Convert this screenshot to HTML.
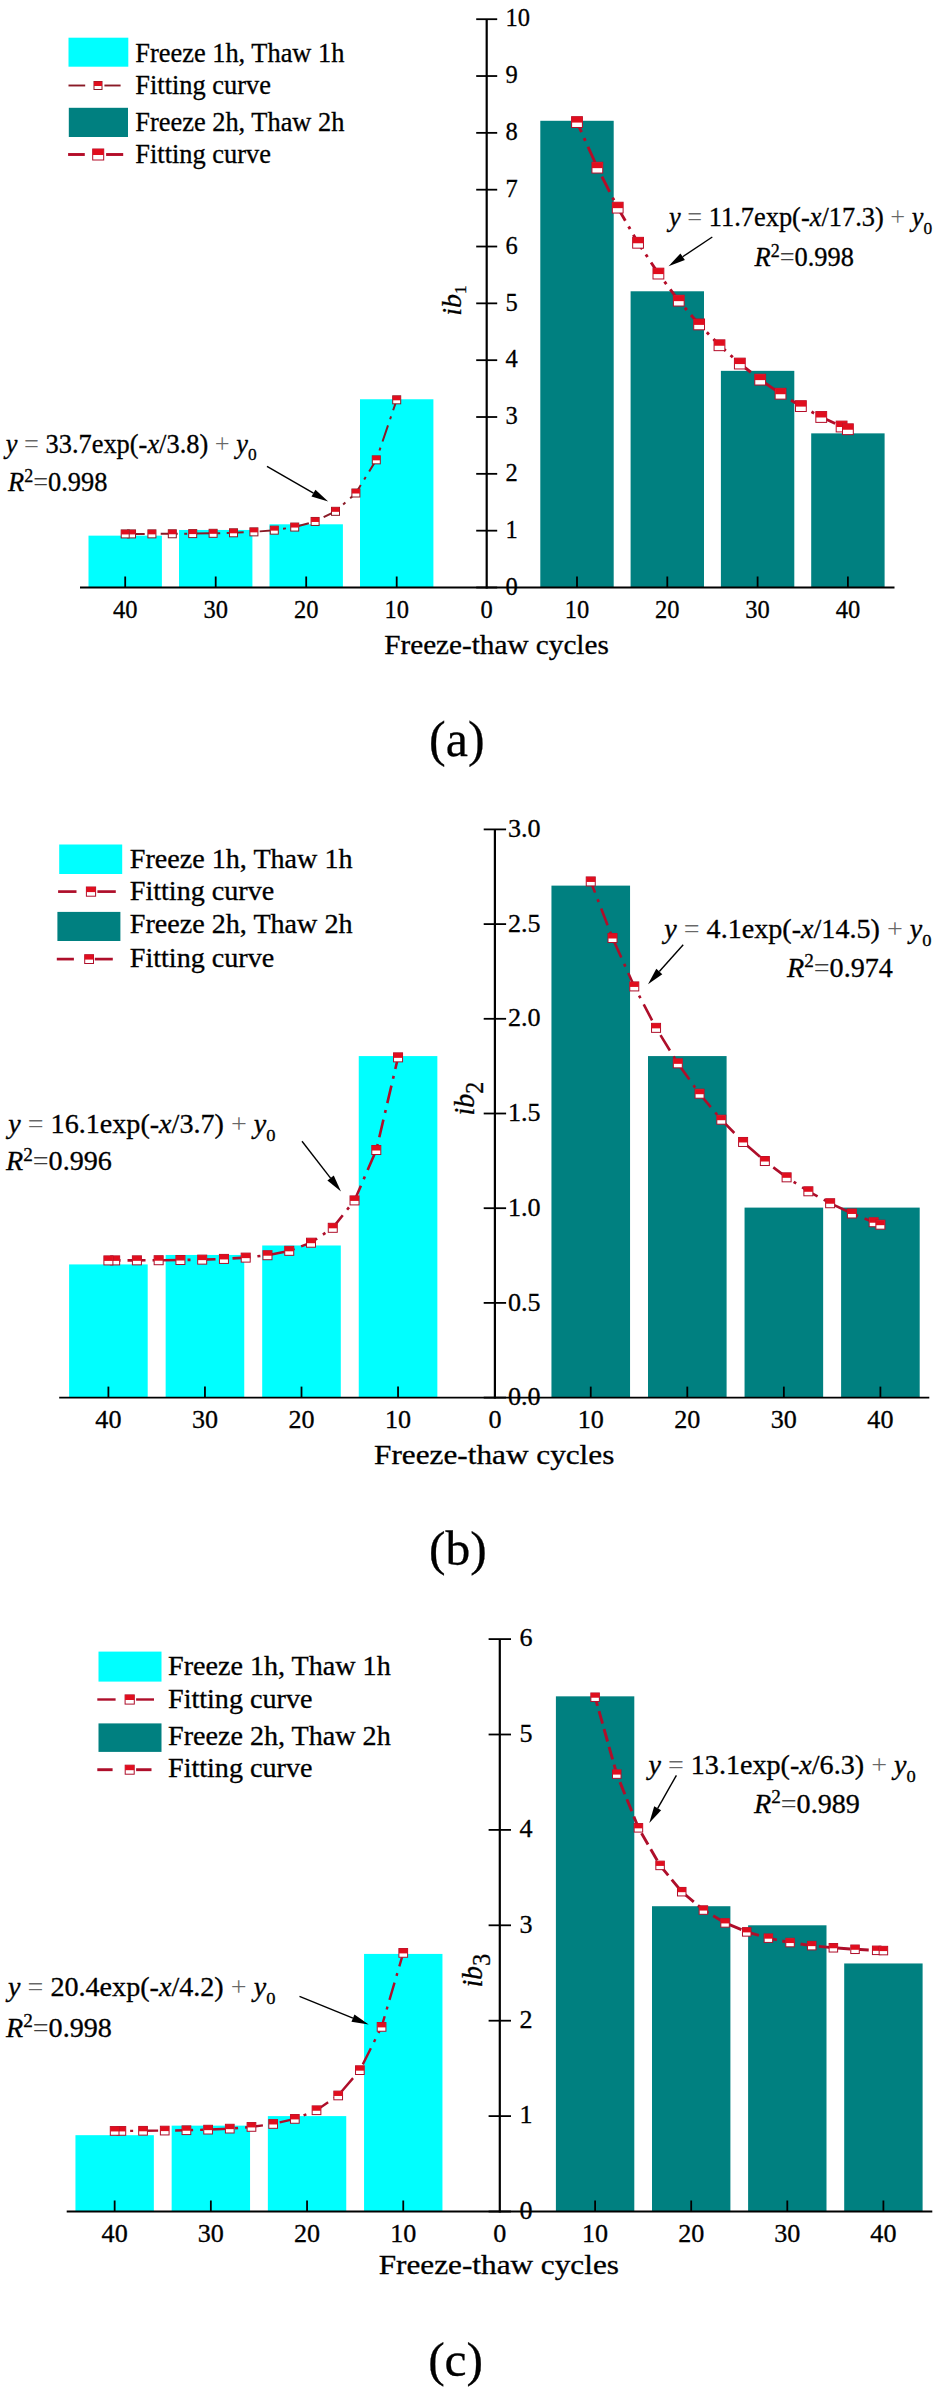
<!DOCTYPE html>
<html><head><meta charset="utf-8"><title>Freeze-thaw cycles</title>
<style>
html,body{margin:0;padding:0;background:#fff;}
svg{display:block;}
text{font-family:"Liberation Serif",serif;fill:#000;stroke:#000;stroke-width:0.3px;}
</style></head><body>
<svg width="937" height="2389" viewBox="0 0 937 2389">
<rect width="937" height="2389" fill="#fff"/>
<rect x="360.00" y="399.26" width="73.40" height="188.24" fill="#00FFFF"/>
<rect x="269.50" y="524.29" width="73.40" height="63.21" fill="#00FFFF"/>
<rect x="179.00" y="529.97" width="73.40" height="57.53" fill="#00FFFF"/>
<rect x="88.50" y="535.65" width="73.40" height="51.85" fill="#00FFFF"/>
<rect x="540.30" y="120.79" width="73.40" height="466.71" fill="#008080"/>
<rect x="630.60" y="291.28" width="73.40" height="296.22" fill="#008080"/>
<rect x="720.90" y="370.85" width="73.40" height="216.65" fill="#008080"/>
<rect x="811.20" y="433.36" width="73.40" height="154.14" fill="#008080"/>
<line x1="80" y1="587.5" x2="894.5" y2="587.5" stroke="#000" stroke-width="1.8"/>
<line x1="486.7" y1="19.20" x2="486.7" y2="588.4" stroke="#000" stroke-width="2.2"/>
<line x1="125.20" y1="587.5" x2="125.20" y2="576.5" stroke="#000" stroke-width="1.8"/>
<line x1="215.70" y1="587.5" x2="215.70" y2="576.5" stroke="#000" stroke-width="1.8"/>
<line x1="306.20" y1="587.5" x2="306.20" y2="576.5" stroke="#000" stroke-width="1.8"/>
<line x1="396.70" y1="587.5" x2="396.70" y2="576.5" stroke="#000" stroke-width="1.8"/>
<line x1="577.00" y1="587.5" x2="577.00" y2="576.5" stroke="#000" stroke-width="1.8"/>
<line x1="667.30" y1="587.5" x2="667.30" y2="576.5" stroke="#000" stroke-width="1.8"/>
<line x1="757.60" y1="587.5" x2="757.60" y2="576.5" stroke="#000" stroke-width="1.8"/>
<line x1="847.90" y1="587.5" x2="847.90" y2="576.5" stroke="#000" stroke-width="1.8"/>
<line x1="476.2" y1="587.50" x2="497.2" y2="587.50" stroke="#000" stroke-width="1.8"/>
<text transform="translate(505.50,594.78) scale(1.0,1)" font-size="24.5" text-anchor="start" >0</text>
<line x1="476.2" y1="530.67" x2="497.2" y2="530.67" stroke="#000" stroke-width="1.8"/>
<text transform="translate(505.50,537.95) scale(1.0,1)" font-size="24.5" text-anchor="start" >1</text>
<line x1="476.2" y1="473.84" x2="497.2" y2="473.84" stroke="#000" stroke-width="1.8"/>
<text transform="translate(505.50,481.12) scale(1.0,1)" font-size="24.5" text-anchor="start" >2</text>
<line x1="476.2" y1="417.01" x2="497.2" y2="417.01" stroke="#000" stroke-width="1.8"/>
<text transform="translate(505.50,424.29) scale(1.0,1)" font-size="24.5" text-anchor="start" >3</text>
<line x1="476.2" y1="360.18" x2="497.2" y2="360.18" stroke="#000" stroke-width="1.8"/>
<text transform="translate(505.50,367.46) scale(1.0,1)" font-size="24.5" text-anchor="start" >4</text>
<line x1="476.2" y1="303.35" x2="497.2" y2="303.35" stroke="#000" stroke-width="1.8"/>
<text transform="translate(505.50,310.63) scale(1.0,1)" font-size="24.5" text-anchor="start" >5</text>
<line x1="476.2" y1="246.52" x2="497.2" y2="246.52" stroke="#000" stroke-width="1.8"/>
<text transform="translate(505.50,253.80) scale(1.0,1)" font-size="24.5" text-anchor="start" >6</text>
<line x1="476.2" y1="189.69" x2="497.2" y2="189.69" stroke="#000" stroke-width="1.8"/>
<text transform="translate(505.50,196.97) scale(1.0,1)" font-size="24.5" text-anchor="start" >7</text>
<line x1="476.2" y1="132.86" x2="497.2" y2="132.86" stroke="#000" stroke-width="1.8"/>
<text transform="translate(505.50,140.14) scale(1.0,1)" font-size="24.5" text-anchor="start" >8</text>
<line x1="476.2" y1="76.03" x2="497.2" y2="76.03" stroke="#000" stroke-width="1.8"/>
<text transform="translate(505.50,83.31) scale(1.0,1)" font-size="24.5" text-anchor="start" >9</text>
<line x1="476.2" y1="19.20" x2="497.2" y2="19.20" stroke="#000" stroke-width="1.8"/>
<text transform="translate(505.50,26.48) scale(1.0,1)" font-size="24.5" text-anchor="start" >10</text>
<text transform="translate(125.20,617.80) scale(1.0,1)" font-size="24.5" text-anchor="middle" >40</text>
<text transform="translate(215.70,617.80) scale(1.0,1)" font-size="24.5" text-anchor="middle" >30</text>
<text transform="translate(306.20,617.80) scale(1.0,1)" font-size="24.5" text-anchor="middle" >20</text>
<text transform="translate(396.70,617.80) scale(1.0,1)" font-size="24.5" text-anchor="middle" >10</text>
<text transform="translate(486.70,617.80) scale(1.0,1)" font-size="24.5" text-anchor="middle" >0</text>
<text transform="translate(577.00,617.80) scale(1.0,1)" font-size="24.5" text-anchor="middle" >10</text>
<text transform="translate(667.30,617.80) scale(1.0,1)" font-size="24.5" text-anchor="middle" >20</text>
<text transform="translate(757.60,617.80) scale(1.0,1)" font-size="24.5" text-anchor="middle" >30</text>
<text transform="translate(847.90,617.80) scale(1.0,1)" font-size="24.5" text-anchor="middle" >40</text>
<polyline points="396.70,399.82 376.30,459.84 355.90,493.01 335.50,511.33 315.11,521.46 294.71,527.06 274.31,530.15 253.91,531.86 233.51,532.80 213.11,533.32 192.71,533.61 172.31,533.77 151.92,533.86 131.52,533.91 125.20,533.92" fill="none" stroke="#8A1A26" stroke-width="2.0" stroke-dasharray="17 6.5 3 6.5" stroke-dashoffset="6"/>
<rect x="392.70" y="395.82" width="8.0" height="8.0" fill="#fff" stroke="#8A1A26" stroke-width="1.0"/>
<rect x="392.70" y="395.82" width="8.0" height="4.50" fill="#E00E1E"/>
<rect x="372.30" y="455.84" width="8.0" height="8.0" fill="#fff" stroke="#8A1A26" stroke-width="1.0"/>
<rect x="372.30" y="455.84" width="8.0" height="4.50" fill="#E00E1E"/>
<rect x="351.90" y="489.01" width="8.0" height="8.0" fill="#fff" stroke="#8A1A26" stroke-width="1.0"/>
<rect x="351.90" y="489.01" width="8.0" height="4.50" fill="#E00E1E"/>
<rect x="331.50" y="507.33" width="8.0" height="8.0" fill="#fff" stroke="#8A1A26" stroke-width="1.0"/>
<rect x="331.50" y="507.33" width="8.0" height="4.50" fill="#E00E1E"/>
<rect x="311.11" y="517.46" width="8.0" height="8.0" fill="#fff" stroke="#8A1A26" stroke-width="1.0"/>
<rect x="311.11" y="517.46" width="8.0" height="4.50" fill="#E00E1E"/>
<rect x="290.71" y="523.06" width="8.0" height="8.0" fill="#fff" stroke="#8A1A26" stroke-width="1.0"/>
<rect x="290.71" y="523.06" width="8.0" height="4.50" fill="#E00E1E"/>
<rect x="270.31" y="526.15" width="8.0" height="8.0" fill="#fff" stroke="#8A1A26" stroke-width="1.0"/>
<rect x="270.31" y="526.15" width="8.0" height="4.50" fill="#E00E1E"/>
<rect x="249.91" y="527.86" width="8.0" height="8.0" fill="#fff" stroke="#8A1A26" stroke-width="1.0"/>
<rect x="249.91" y="527.86" width="8.0" height="4.50" fill="#E00E1E"/>
<rect x="229.51" y="528.80" width="8.0" height="8.0" fill="#fff" stroke="#8A1A26" stroke-width="1.0"/>
<rect x="229.51" y="528.80" width="8.0" height="4.50" fill="#E00E1E"/>
<rect x="209.11" y="529.32" width="8.0" height="8.0" fill="#fff" stroke="#8A1A26" stroke-width="1.0"/>
<rect x="209.11" y="529.32" width="8.0" height="4.50" fill="#E00E1E"/>
<rect x="188.71" y="529.61" width="8.0" height="8.0" fill="#fff" stroke="#8A1A26" stroke-width="1.0"/>
<rect x="188.71" y="529.61" width="8.0" height="4.50" fill="#E00E1E"/>
<rect x="168.31" y="529.77" width="8.0" height="8.0" fill="#fff" stroke="#8A1A26" stroke-width="1.0"/>
<rect x="168.31" y="529.77" width="8.0" height="4.50" fill="#E00E1E"/>
<rect x="147.92" y="529.86" width="8.0" height="8.0" fill="#fff" stroke="#8A1A26" stroke-width="1.0"/>
<rect x="147.92" y="529.86" width="8.0" height="4.50" fill="#E00E1E"/>
<rect x="127.52" y="529.91" width="8.0" height="8.0" fill="#fff" stroke="#8A1A26" stroke-width="1.0"/>
<rect x="127.52" y="529.91" width="8.0" height="4.50" fill="#E00E1E"/>
<rect x="121.20" y="529.92" width="8.0" height="8.0" fill="#fff" stroke="#8A1A26" stroke-width="1.0"/>
<rect x="121.20" y="529.92" width="8.0" height="4.50" fill="#E00E1E"/>
<polyline points="577.00,122.08 597.35,167.65 617.71,207.65 638.06,242.76 658.41,273.59 678.77,300.64 699.12,324.40 719.48,345.25 739.83,363.56 760.18,379.62 780.54,393.73 800.89,406.11 821.24,416.98 841.60,426.52 847.90,429.24" fill="none" stroke="#B40C28" stroke-width="2.9" stroke-dasharray="17 6.5 3 6.5" stroke-dashoffset="6"/>
<rect x="571.60" y="116.68" width="10.8" height="10.8" fill="#fff" stroke="#B40C28" stroke-width="1.0"/>
<rect x="571.60" y="116.68" width="10.8" height="5.90" fill="#E00E1E"/>
<rect x="591.95" y="162.25" width="10.8" height="10.8" fill="#fff" stroke="#B40C28" stroke-width="1.0"/>
<rect x="591.95" y="162.25" width="10.8" height="5.90" fill="#E00E1E"/>
<rect x="612.31" y="202.25" width="10.8" height="10.8" fill="#fff" stroke="#B40C28" stroke-width="1.0"/>
<rect x="612.31" y="202.25" width="10.8" height="5.90" fill="#E00E1E"/>
<rect x="632.66" y="237.36" width="10.8" height="10.8" fill="#fff" stroke="#B40C28" stroke-width="1.0"/>
<rect x="632.66" y="237.36" width="10.8" height="5.90" fill="#E00E1E"/>
<rect x="653.01" y="268.19" width="10.8" height="10.8" fill="#fff" stroke="#B40C28" stroke-width="1.0"/>
<rect x="653.01" y="268.19" width="10.8" height="5.90" fill="#E00E1E"/>
<rect x="673.37" y="295.24" width="10.8" height="10.8" fill="#fff" stroke="#B40C28" stroke-width="1.0"/>
<rect x="673.37" y="295.24" width="10.8" height="5.90" fill="#E00E1E"/>
<rect x="693.72" y="319.00" width="10.8" height="10.8" fill="#fff" stroke="#B40C28" stroke-width="1.0"/>
<rect x="693.72" y="319.00" width="10.8" height="5.90" fill="#E00E1E"/>
<rect x="714.08" y="339.85" width="10.8" height="10.8" fill="#fff" stroke="#B40C28" stroke-width="1.0"/>
<rect x="714.08" y="339.85" width="10.8" height="5.90" fill="#E00E1E"/>
<rect x="734.43" y="358.16" width="10.8" height="10.8" fill="#fff" stroke="#B40C28" stroke-width="1.0"/>
<rect x="734.43" y="358.16" width="10.8" height="5.90" fill="#E00E1E"/>
<rect x="754.78" y="374.22" width="10.8" height="10.8" fill="#fff" stroke="#B40C28" stroke-width="1.0"/>
<rect x="754.78" y="374.22" width="10.8" height="5.90" fill="#E00E1E"/>
<rect x="775.14" y="388.33" width="10.8" height="10.8" fill="#fff" stroke="#B40C28" stroke-width="1.0"/>
<rect x="775.14" y="388.33" width="10.8" height="5.90" fill="#E00E1E"/>
<rect x="795.49" y="400.71" width="10.8" height="10.8" fill="#fff" stroke="#B40C28" stroke-width="1.0"/>
<rect x="795.49" y="400.71" width="10.8" height="5.90" fill="#E00E1E"/>
<rect x="815.84" y="411.58" width="10.8" height="10.8" fill="#fff" stroke="#B40C28" stroke-width="1.0"/>
<rect x="815.84" y="411.58" width="10.8" height="5.90" fill="#E00E1E"/>
<rect x="836.20" y="421.12" width="10.8" height="10.8" fill="#fff" stroke="#B40C28" stroke-width="1.0"/>
<rect x="836.20" y="421.12" width="10.8" height="5.90" fill="#E00E1E"/>
<rect x="842.50" y="423.84" width="10.8" height="10.8" fill="#fff" stroke="#B40C28" stroke-width="1.0"/>
<rect x="842.50" y="423.84" width="10.8" height="5.90" fill="#E00E1E"/>
<rect x="68.5" y="37.7" width="59.8" height="29" fill="#00FFFF"/>
<rect x="68.8" y="107.8" width="59.2" height="29.2" fill="#008080"/>
<text transform="translate(135.30,61.70) scale(1.0,1)" font-size="26.4" text-anchor="start" >Freeze 1h, Thaw 1h</text>
<text transform="translate(135.30,94.10) scale(1.0,1)" font-size="26.4" text-anchor="start" >Fitting curve</text>
<text transform="translate(135.30,131.00) scale(1.0,1)" font-size="26.4" text-anchor="start" >Freeze 2h, Thaw 2h</text>
<text transform="translate(135.30,162.80) scale(1.0,1)" font-size="26.4" text-anchor="start" >Fitting curve</text>
<line x1="68.5" y1="85.5" x2="85.2" y2="85.5" stroke="#8A1A26" stroke-width="1.9"/>
<line x1="104.4" y1="85.5" x2="120.6" y2="85.5" stroke="#8A1A26" stroke-width="1.9"/>
<rect x="94.00" y="81.50" width="8.0" height="8.0" fill="#fff" stroke="#8A1A26" stroke-width="1.0"/>
<rect x="94.00" y="81.50" width="8.0" height="4.50" fill="#E00E1E"/>
<line x1="68.1" y1="154.5" x2="84.8" y2="154.5" stroke="#B40C28" stroke-width="2.9"/>
<line x1="106.1" y1="154.5" x2="123.2" y2="154.5" stroke="#B40C28" stroke-width="2.9"/>
<rect x="92.70" y="149.00" width="11.0" height="11.0" fill="#fff" stroke="#B40C28" stroke-width="1.0"/>
<rect x="92.70" y="149.00" width="11.0" height="6.00" fill="#E00E1E"/>
<text transform="translate(5.70,452.80) scale(1.0,1)" font-size="26.4" text-anchor="start" ><tspan font-style="italic">y</tspan> <tspan fill-opacity="0.6" stroke="none">=</tspan> 33.7exp(-<tspan font-style="italic">x</tspan>/3.8) <tspan fill-opacity="0.6" stroke="none">+</tspan> <tspan font-style="italic">y</tspan><tspan font-size="17.4" dy="7.4">0</tspan></text>
<text transform="translate(8.00,491.30) scale(1.0,1)" font-size="26.4" text-anchor="start" ><tspan font-style="italic">R</tspan><tspan font-size="18.0" dy="-9.5">2</tspan><tspan dy="9.5"><tspan fill-opacity="0.75" stroke="none">=</tspan>0.998</tspan></text>
<text transform="translate(669.00,226.30) scale(1.0,1)" font-size="26.4" text-anchor="start" ><tspan font-style="italic">y</tspan> <tspan fill-opacity="0.6" stroke="none">=</tspan> 11.7exp(-<tspan font-style="italic">x</tspan>/17.3) <tspan fill-opacity="0.6" stroke="none">+</tspan> <tspan font-style="italic">y</tspan><tspan font-size="17.4" dy="7.4">0</tspan></text>
<text transform="translate(754.50,266.20) scale(1.0,1)" font-size="26.4" text-anchor="start" ><tspan font-style="italic">R</tspan><tspan font-size="18.0" dy="-9.5">2</tspan><tspan dy="9.5"><tspan fill-opacity="0.75" stroke="none">=</tspan>0.998</tspan></text>
<line x1="267.00" y1="466.40" x2="313.46" y2="493.12" stroke="#000" stroke-width="1.4"/>
<polygon points="328.20,501.60 311.47,496.59 315.46,489.66" fill="#000"/>
<line x1="712.30" y1="237.00" x2="682.64" y2="256.77" stroke="#000" stroke-width="1.4"/>
<polygon points="668.50,266.20 680.43,253.44 684.86,260.10" fill="#000"/>
<text transform="translate(496.50,653.70) scale(1.07,1)" font-size="27.3" text-anchor="middle" >Freeze-thaw cycles</text>
<text transform="translate(456.80,756.00) scale(1.0,1)" font-size="50" text-anchor="middle" >(a)</text>
<text transform="translate(460.5,315.7) rotate(-90) scale(1,1.0)" font-size="28"><tspan font-style="italic">ib</tspan><tspan font-size="17" dy="5.5">1</tspan></text>
<rect x="358.75" y="1056.08" width="78.60" height="341.52" fill="#00FFFF"/>
<rect x="262.20" y="1245.48" width="78.60" height="152.12" fill="#00FFFF"/>
<rect x="165.65" y="1254.95" width="78.60" height="142.65" fill="#00FFFF"/>
<rect x="69.10" y="1264.42" width="78.60" height="133.18" fill="#00FFFF"/>
<rect x="551.45" y="885.62" width="78.60" height="511.98" fill="#008080"/>
<rect x="648.00" y="1056.08" width="78.60" height="341.52" fill="#008080"/>
<rect x="744.55" y="1207.60" width="78.60" height="190.00" fill="#008080"/>
<rect x="841.10" y="1207.60" width="78.60" height="190.00" fill="#008080"/>
<line x1="59.2" y1="1397.6" x2="929.3" y2="1397.6" stroke="#000" stroke-width="1.8"/>
<line x1="494.9" y1="829.40" x2="494.9" y2="1398.5" stroke="#000" stroke-width="2.2"/>
<line x1="108.40" y1="1397.6" x2="108.40" y2="1386.6" stroke="#000" stroke-width="1.8"/>
<line x1="204.95" y1="1397.6" x2="204.95" y2="1386.6" stroke="#000" stroke-width="1.8"/>
<line x1="301.50" y1="1397.6" x2="301.50" y2="1386.6" stroke="#000" stroke-width="1.8"/>
<line x1="398.05" y1="1397.6" x2="398.05" y2="1386.6" stroke="#000" stroke-width="1.8"/>
<line x1="590.75" y1="1397.6" x2="590.75" y2="1386.6" stroke="#000" stroke-width="1.8"/>
<line x1="687.30" y1="1397.6" x2="687.30" y2="1386.6" stroke="#000" stroke-width="1.8"/>
<line x1="783.85" y1="1397.6" x2="783.85" y2="1386.6" stroke="#000" stroke-width="1.8"/>
<line x1="880.40" y1="1397.6" x2="880.40" y2="1386.6" stroke="#000" stroke-width="1.8"/>
<line x1="483.7" y1="1397.60" x2="506.09999999999997" y2="1397.60" stroke="#000" stroke-width="1.8"/>
<text transform="translate(508.00,1405.28) scale(1.065,1)" font-size="24.5" text-anchor="start" >0.0</text>
<line x1="483.7" y1="1302.90" x2="506.09999999999997" y2="1302.90" stroke="#000" stroke-width="1.8"/>
<text transform="translate(508.00,1310.58) scale(1.065,1)" font-size="24.5" text-anchor="start" >0.5</text>
<line x1="483.7" y1="1208.20" x2="506.09999999999997" y2="1208.20" stroke="#000" stroke-width="1.8"/>
<text transform="translate(508.00,1215.88) scale(1.065,1)" font-size="24.5" text-anchor="start" >1.0</text>
<line x1="483.7" y1="1113.50" x2="506.09999999999997" y2="1113.50" stroke="#000" stroke-width="1.8"/>
<text transform="translate(508.00,1121.18) scale(1.065,1)" font-size="24.5" text-anchor="start" >1.5</text>
<line x1="483.7" y1="1018.80" x2="506.09999999999997" y2="1018.80" stroke="#000" stroke-width="1.8"/>
<text transform="translate(508.00,1026.48) scale(1.065,1)" font-size="24.5" text-anchor="start" >2.0</text>
<line x1="483.7" y1="924.10" x2="506.09999999999997" y2="924.10" stroke="#000" stroke-width="1.8"/>
<text transform="translate(508.00,931.78) scale(1.065,1)" font-size="24.5" text-anchor="start" >2.5</text>
<line x1="483.7" y1="829.40" x2="506.09999999999997" y2="829.40" stroke="#000" stroke-width="1.8"/>
<text transform="translate(508.00,837.08) scale(1.065,1)" font-size="24.5" text-anchor="start" >3.0</text>
<text transform="translate(108.40,1427.50) scale(1.065,1)" font-size="24.5" text-anchor="middle" >40</text>
<text transform="translate(204.95,1427.50) scale(1.065,1)" font-size="24.5" text-anchor="middle" >30</text>
<text transform="translate(301.50,1427.50) scale(1.065,1)" font-size="24.5" text-anchor="middle" >20</text>
<text transform="translate(398.05,1427.50) scale(1.065,1)" font-size="24.5" text-anchor="middle" >10</text>
<text transform="translate(494.90,1427.50) scale(1.065,1)" font-size="24.5" text-anchor="middle" >0</text>
<text transform="translate(590.75,1427.50) scale(1.065,1)" font-size="24.5" text-anchor="middle" >10</text>
<text transform="translate(687.30,1427.50) scale(1.065,1)" font-size="24.5" text-anchor="middle" >20</text>
<text transform="translate(783.85,1427.50) scale(1.065,1)" font-size="24.5" text-anchor="middle" >30</text>
<text transform="translate(880.40,1427.50) scale(1.065,1)" font-size="24.5" text-anchor="middle" >40</text>
<polyline points="398.05,1057.36 376.29,1150.02 354.53,1200.41 332.76,1227.81 311.00,1242.71 289.24,1250.82 267.48,1255.22 245.71,1257.62 223.95,1258.92 202.19,1259.63 180.43,1260.02 158.66,1260.22 136.90,1260.34 115.14,1260.40 108.40,1260.41" fill="none" stroke="#AE0E2A" stroke-width="2.6" stroke-dasharray="18 7 3 7" stroke-dashoffset="6"/>
<rect x="393.55" y="1052.86" width="9.0" height="9.0" fill="#fff" stroke="#AE0E2A" stroke-width="1.0"/>
<rect x="393.55" y="1052.86" width="9.0" height="5.00" fill="#E00E1E"/>
<rect x="371.79" y="1145.52" width="9.0" height="9.0" fill="#fff" stroke="#AE0E2A" stroke-width="1.0"/>
<rect x="371.79" y="1145.52" width="9.0" height="5.00" fill="#E00E1E"/>
<rect x="350.03" y="1195.91" width="9.0" height="9.0" fill="#fff" stroke="#AE0E2A" stroke-width="1.0"/>
<rect x="350.03" y="1195.91" width="9.0" height="5.00" fill="#E00E1E"/>
<rect x="328.26" y="1223.31" width="9.0" height="9.0" fill="#fff" stroke="#AE0E2A" stroke-width="1.0"/>
<rect x="328.26" y="1223.31" width="9.0" height="5.00" fill="#E00E1E"/>
<rect x="306.50" y="1238.21" width="9.0" height="9.0" fill="#fff" stroke="#AE0E2A" stroke-width="1.0"/>
<rect x="306.50" y="1238.21" width="9.0" height="5.00" fill="#E00E1E"/>
<rect x="284.74" y="1246.32" width="9.0" height="9.0" fill="#fff" stroke="#AE0E2A" stroke-width="1.0"/>
<rect x="284.74" y="1246.32" width="9.0" height="5.00" fill="#E00E1E"/>
<rect x="262.98" y="1250.72" width="9.0" height="9.0" fill="#fff" stroke="#AE0E2A" stroke-width="1.0"/>
<rect x="262.98" y="1250.72" width="9.0" height="5.00" fill="#E00E1E"/>
<rect x="241.21" y="1253.12" width="9.0" height="9.0" fill="#fff" stroke="#AE0E2A" stroke-width="1.0"/>
<rect x="241.21" y="1253.12" width="9.0" height="5.00" fill="#E00E1E"/>
<rect x="219.45" y="1254.42" width="9.0" height="9.0" fill="#fff" stroke="#AE0E2A" stroke-width="1.0"/>
<rect x="219.45" y="1254.42" width="9.0" height="5.00" fill="#E00E1E"/>
<rect x="197.69" y="1255.13" width="9.0" height="9.0" fill="#fff" stroke="#AE0E2A" stroke-width="1.0"/>
<rect x="197.69" y="1255.13" width="9.0" height="5.00" fill="#E00E1E"/>
<rect x="175.93" y="1255.52" width="9.0" height="9.0" fill="#fff" stroke="#AE0E2A" stroke-width="1.0"/>
<rect x="175.93" y="1255.52" width="9.0" height="5.00" fill="#E00E1E"/>
<rect x="154.16" y="1255.72" width="9.0" height="9.0" fill="#fff" stroke="#AE0E2A" stroke-width="1.0"/>
<rect x="154.16" y="1255.72" width="9.0" height="5.00" fill="#E00E1E"/>
<rect x="132.40" y="1255.84" width="9.0" height="9.0" fill="#fff" stroke="#AE0E2A" stroke-width="1.0"/>
<rect x="132.40" y="1255.84" width="9.0" height="5.00" fill="#E00E1E"/>
<rect x="110.64" y="1255.90" width="9.0" height="9.0" fill="#fff" stroke="#AE0E2A" stroke-width="1.0"/>
<rect x="110.64" y="1255.90" width="9.0" height="5.00" fill="#E00E1E"/>
<rect x="103.90" y="1255.91" width="9.0" height="9.0" fill="#fff" stroke="#AE0E2A" stroke-width="1.0"/>
<rect x="103.90" y="1255.91" width="9.0" height="5.00" fill="#E00E1E"/>
<polyline points="590.75,881.44 612.51,938.00 634.27,986.42 656.04,1027.86 677.80,1063.34 699.56,1093.71 721.32,1119.71 743.09,1141.97 764.85,1161.02 786.61,1177.33 808.37,1191.29 830.14,1203.24 851.90,1213.47 873.66,1222.23 880.40,1224.68" fill="none" stroke="#AE0E2A" stroke-width="2.6" stroke-dasharray="18 7 3 7" stroke-dashoffset="6"/>
<rect x="586.25" y="876.94" width="9.0" height="9.0" fill="#fff" stroke="#AE0E2A" stroke-width="1.0"/>
<rect x="586.25" y="876.94" width="9.0" height="5.00" fill="#E00E1E"/>
<rect x="608.01" y="933.50" width="9.0" height="9.0" fill="#fff" stroke="#AE0E2A" stroke-width="1.0"/>
<rect x="608.01" y="933.50" width="9.0" height="5.00" fill="#E00E1E"/>
<rect x="629.77" y="981.92" width="9.0" height="9.0" fill="#fff" stroke="#AE0E2A" stroke-width="1.0"/>
<rect x="629.77" y="981.92" width="9.0" height="5.00" fill="#E00E1E"/>
<rect x="651.54" y="1023.36" width="9.0" height="9.0" fill="#fff" stroke="#AE0E2A" stroke-width="1.0"/>
<rect x="651.54" y="1023.36" width="9.0" height="5.00" fill="#E00E1E"/>
<rect x="673.30" y="1058.84" width="9.0" height="9.0" fill="#fff" stroke="#AE0E2A" stroke-width="1.0"/>
<rect x="673.30" y="1058.84" width="9.0" height="5.00" fill="#E00E1E"/>
<rect x="695.06" y="1089.21" width="9.0" height="9.0" fill="#fff" stroke="#AE0E2A" stroke-width="1.0"/>
<rect x="695.06" y="1089.21" width="9.0" height="5.00" fill="#E00E1E"/>
<rect x="716.82" y="1115.21" width="9.0" height="9.0" fill="#fff" stroke="#AE0E2A" stroke-width="1.0"/>
<rect x="716.82" y="1115.21" width="9.0" height="5.00" fill="#E00E1E"/>
<rect x="738.59" y="1137.47" width="9.0" height="9.0" fill="#fff" stroke="#AE0E2A" stroke-width="1.0"/>
<rect x="738.59" y="1137.47" width="9.0" height="5.00" fill="#E00E1E"/>
<rect x="760.35" y="1156.52" width="9.0" height="9.0" fill="#fff" stroke="#AE0E2A" stroke-width="1.0"/>
<rect x="760.35" y="1156.52" width="9.0" height="5.00" fill="#E00E1E"/>
<rect x="782.11" y="1172.83" width="9.0" height="9.0" fill="#fff" stroke="#AE0E2A" stroke-width="1.0"/>
<rect x="782.11" y="1172.83" width="9.0" height="5.00" fill="#E00E1E"/>
<rect x="803.87" y="1186.79" width="9.0" height="9.0" fill="#fff" stroke="#AE0E2A" stroke-width="1.0"/>
<rect x="803.87" y="1186.79" width="9.0" height="5.00" fill="#E00E1E"/>
<rect x="825.64" y="1198.74" width="9.0" height="9.0" fill="#fff" stroke="#AE0E2A" stroke-width="1.0"/>
<rect x="825.64" y="1198.74" width="9.0" height="5.00" fill="#E00E1E"/>
<rect x="847.40" y="1208.97" width="9.0" height="9.0" fill="#fff" stroke="#AE0E2A" stroke-width="1.0"/>
<rect x="847.40" y="1208.97" width="9.0" height="5.00" fill="#E00E1E"/>
<rect x="869.16" y="1217.73" width="9.0" height="9.0" fill="#fff" stroke="#AE0E2A" stroke-width="1.0"/>
<rect x="869.16" y="1217.73" width="9.0" height="5.00" fill="#E00E1E"/>
<rect x="875.90" y="1220.18" width="9.0" height="9.0" fill="#fff" stroke="#AE0E2A" stroke-width="1.0"/>
<rect x="875.90" y="1220.18" width="9.0" height="5.00" fill="#E00E1E"/>
<rect x="59.2" y="844.5" width="63" height="29.5" fill="#00FFFF"/>
<rect x="57.4" y="911.9" width="63" height="29.1" fill="#008080"/>
<text transform="translate(129.80,867.90) scale(1.065,1)" font-size="26.4" text-anchor="start" >Freeze 1h, Thaw 1h</text>
<text transform="translate(129.80,899.80) scale(1.065,1)" font-size="26.4" text-anchor="start" >Fitting curve</text>
<text transform="translate(129.80,933.20) scale(1.065,1)" font-size="26.4" text-anchor="start" >Freeze 2h, Thaw 2h</text>
<text transform="translate(129.80,967.00) scale(1.065,1)" font-size="26.4" text-anchor="start" >Fitting curve</text>
<line x1="58.1" y1="891.6" x2="76.5" y2="891.6" stroke="#AE0E2A" stroke-width="2.7"/>
<line x1="97.4" y1="891.6" x2="115.8" y2="891.6" stroke="#AE0E2A" stroke-width="2.7"/>
<rect x="86.40" y="887.00" width="9.2" height="9.2" fill="#fff" stroke="#AE0E2A" stroke-width="1.0"/>
<rect x="86.40" y="887.00" width="9.2" height="5.10" fill="#E00E1E"/>
<line x1="56.8" y1="959.1" x2="73.9" y2="959.1" stroke="#AE0E2A" stroke-width="2.7"/>
<line x1="94.8" y1="959.1" x2="112.8" y2="959.1" stroke="#AE0E2A" stroke-width="2.7"/>
<rect x="84.70" y="954.70" width="8.8" height="8.8" fill="#fff" stroke="#AE0E2A" stroke-width="1.0"/>
<rect x="84.70" y="954.70" width="8.8" height="4.90" fill="#E00E1E"/>
<text transform="translate(8.20,1133.30) scale(1.065,1)" font-size="26.4" text-anchor="start" ><tspan font-style="italic">y</tspan> <tspan fill-opacity="0.6" stroke="none">=</tspan> 16.1exp(-<tspan font-style="italic">x</tspan>/3.7) <tspan fill-opacity="0.6" stroke="none">+</tspan> <tspan font-style="italic">y</tspan><tspan font-size="17.4" dy="7.4">0</tspan></text>
<text transform="translate(6.00,1170.00) scale(1.065,1)" font-size="26.4" text-anchor="start" ><tspan font-style="italic">R</tspan><tspan font-size="18.0" dy="-9.5">2</tspan><tspan dy="9.5"><tspan fill-opacity="0.75" stroke="none">=</tspan>0.996</tspan></text>
<text transform="translate(664.20,938.40) scale(1.065,1)" font-size="26.4" text-anchor="start" ><tspan font-style="italic">y</tspan> <tspan fill-opacity="0.6" stroke="none">=</tspan> 4.1exp(-<tspan font-style="italic">x</tspan>/14.5) <tspan fill-opacity="0.6" stroke="none">+</tspan> <tspan font-style="italic">y</tspan><tspan font-size="17.4" dy="7.4">0</tspan></text>
<text transform="translate(787.00,976.50) scale(1.065,1)" font-size="26.4" text-anchor="start" ><tspan font-style="italic">R</tspan><tspan font-size="18.0" dy="-9.5">2</tspan><tspan dy="9.5"><tspan fill-opacity="0.75" stroke="none">=</tspan>0.974</tspan></text>
<line x1="302.00" y1="1141.30" x2="330.57" y2="1178.08" stroke="#000" stroke-width="1.4"/>
<polygon points="341.00,1191.50 327.41,1180.53 333.73,1175.62" fill="#000"/>
<line x1="683.20" y1="944.70" x2="659.31" y2="971.51" stroke="#000" stroke-width="1.4"/>
<polygon points="648.00,984.20 656.32,968.85 662.30,974.17" fill="#000"/>
<text transform="translate(494.20,1464.00) scale(1.145,1)" font-size="27.3" text-anchor="middle" >Freeze-thaw cycles</text>
<text transform="translate(457.90,1565.30) scale(1.0,1)" font-size="49.5" text-anchor="middle" >(b)</text>
<text transform="translate(473.8,1115.5) rotate(-90) scale(1,1.065)" font-size="28"><tspan font-style="italic">ib</tspan><tspan font-size="24" dy="8.5">2</tspan></text>
<rect x="364.05" y="1953.92" width="78.40" height="257.58" fill="#00FFFF"/>
<rect x="267.85" y="2116.10" width="78.40" height="95.40" fill="#00FFFF"/>
<rect x="171.65" y="2125.64" width="78.40" height="85.86" fill="#00FFFF"/>
<rect x="75.45" y="2135.18" width="78.40" height="76.32" fill="#00FFFF"/>
<rect x="555.90" y="1696.34" width="78.40" height="515.16" fill="#008080"/>
<rect x="652.00" y="1906.22" width="78.40" height="305.28" fill="#008080"/>
<rect x="748.10" y="1925.30" width="78.40" height="286.20" fill="#008080"/>
<rect x="844.20" y="1963.46" width="78.40" height="248.04" fill="#008080"/>
<line x1="66.7" y1="2211.5" x2="932.3" y2="2211.5" stroke="#000" stroke-width="1.8"/>
<line x1="499.8" y1="1639.10" x2="499.8" y2="2212.4" stroke="#000" stroke-width="2.2"/>
<line x1="114.65" y1="2211.5" x2="114.65" y2="2200.5" stroke="#000" stroke-width="1.8"/>
<line x1="210.85" y1="2211.5" x2="210.85" y2="2200.5" stroke="#000" stroke-width="1.8"/>
<line x1="307.05" y1="2211.5" x2="307.05" y2="2200.5" stroke="#000" stroke-width="1.8"/>
<line x1="403.25" y1="2211.5" x2="403.25" y2="2200.5" stroke="#000" stroke-width="1.8"/>
<line x1="595.10" y1="2211.5" x2="595.10" y2="2200.5" stroke="#000" stroke-width="1.8"/>
<line x1="691.20" y1="2211.5" x2="691.20" y2="2200.5" stroke="#000" stroke-width="1.8"/>
<line x1="787.30" y1="2211.5" x2="787.30" y2="2200.5" stroke="#000" stroke-width="1.8"/>
<line x1="883.40" y1="2211.5" x2="883.40" y2="2200.5" stroke="#000" stroke-width="1.8"/>
<line x1="488.6" y1="2211.50" x2="511.0" y2="2211.50" stroke="#000" stroke-width="1.8"/>
<text transform="translate(519.50,2218.78) scale(1.065,1)" font-size="24.5" text-anchor="start" >0</text>
<line x1="488.6" y1="2116.10" x2="511.0" y2="2116.10" stroke="#000" stroke-width="1.8"/>
<text transform="translate(519.50,2123.38) scale(1.065,1)" font-size="24.5" text-anchor="start" >1</text>
<line x1="488.6" y1="2020.70" x2="511.0" y2="2020.70" stroke="#000" stroke-width="1.8"/>
<text transform="translate(519.50,2027.98) scale(1.065,1)" font-size="24.5" text-anchor="start" >2</text>
<line x1="488.6" y1="1925.30" x2="511.0" y2="1925.30" stroke="#000" stroke-width="1.8"/>
<text transform="translate(519.50,1932.58) scale(1.065,1)" font-size="24.5" text-anchor="start" >3</text>
<line x1="488.6" y1="1829.90" x2="511.0" y2="1829.90" stroke="#000" stroke-width="1.8"/>
<text transform="translate(519.50,1837.18) scale(1.065,1)" font-size="24.5" text-anchor="start" >4</text>
<line x1="488.6" y1="1734.50" x2="511.0" y2="1734.50" stroke="#000" stroke-width="1.8"/>
<text transform="translate(519.50,1741.78) scale(1.065,1)" font-size="24.5" text-anchor="start" >5</text>
<line x1="488.6" y1="1639.10" x2="511.0" y2="1639.10" stroke="#000" stroke-width="1.8"/>
<text transform="translate(519.50,1646.38) scale(1.065,1)" font-size="24.5" text-anchor="start" >6</text>
<text transform="translate(114.65,2242.00) scale(1.065,1)" font-size="24.5" text-anchor="middle" >40</text>
<text transform="translate(210.85,2242.00) scale(1.065,1)" font-size="24.5" text-anchor="middle" >30</text>
<text transform="translate(307.05,2242.00) scale(1.065,1)" font-size="24.5" text-anchor="middle" >20</text>
<text transform="translate(403.25,2242.00) scale(1.065,1)" font-size="24.5" text-anchor="middle" >10</text>
<text transform="translate(499.80,2242.00) scale(1.065,1)" font-size="24.5" text-anchor="middle" >0</text>
<text transform="translate(595.10,2242.00) scale(1.065,1)" font-size="24.5" text-anchor="middle" >10</text>
<text transform="translate(691.20,2242.00) scale(1.065,1)" font-size="24.5" text-anchor="middle" >20</text>
<text transform="translate(787.30,2242.00) scale(1.065,1)" font-size="24.5" text-anchor="middle" >30</text>
<text transform="translate(883.40,2242.00) scale(1.065,1)" font-size="24.5" text-anchor="middle" >40</text>
<polyline points="403.25,1952.90 381.57,2026.90 359.88,2070.16 338.20,2095.46 316.52,2110.25 294.83,2118.90 273.15,2123.96 251.47,2126.92 229.78,2128.64 208.10,2129.65 186.42,2130.25 164.73,2130.59 143.05,2130.79 121.36,2130.91 114.65,2130.94" fill="none" stroke="#AE0E2A" stroke-width="2.4" stroke-dasharray="18 7 3 7" stroke-dashoffset="4"/>
<rect x="398.90" y="1948.55" width="8.7" height="8.7" fill="#fff" stroke="#AE0E2A" stroke-width="1.0"/>
<rect x="398.90" y="1948.55" width="8.7" height="4.85" fill="#E00E1E"/>
<rect x="377.22" y="2022.55" width="8.7" height="8.7" fill="#fff" stroke="#AE0E2A" stroke-width="1.0"/>
<rect x="377.22" y="2022.55" width="8.7" height="4.85" fill="#E00E1E"/>
<rect x="355.53" y="2065.81" width="8.7" height="8.7" fill="#fff" stroke="#AE0E2A" stroke-width="1.0"/>
<rect x="355.53" y="2065.81" width="8.7" height="4.85" fill="#E00E1E"/>
<rect x="333.85" y="2091.11" width="8.7" height="8.7" fill="#fff" stroke="#AE0E2A" stroke-width="1.0"/>
<rect x="333.85" y="2091.11" width="8.7" height="4.85" fill="#E00E1E"/>
<rect x="312.17" y="2105.90" width="8.7" height="8.7" fill="#fff" stroke="#AE0E2A" stroke-width="1.0"/>
<rect x="312.17" y="2105.90" width="8.7" height="4.85" fill="#E00E1E"/>
<rect x="290.48" y="2114.55" width="8.7" height="8.7" fill="#fff" stroke="#AE0E2A" stroke-width="1.0"/>
<rect x="290.48" y="2114.55" width="8.7" height="4.85" fill="#E00E1E"/>
<rect x="268.80" y="2119.61" width="8.7" height="8.7" fill="#fff" stroke="#AE0E2A" stroke-width="1.0"/>
<rect x="268.80" y="2119.61" width="8.7" height="4.85" fill="#E00E1E"/>
<rect x="247.12" y="2122.57" width="8.7" height="8.7" fill="#fff" stroke="#AE0E2A" stroke-width="1.0"/>
<rect x="247.12" y="2122.57" width="8.7" height="4.85" fill="#E00E1E"/>
<rect x="225.43" y="2124.29" width="8.7" height="8.7" fill="#fff" stroke="#AE0E2A" stroke-width="1.0"/>
<rect x="225.43" y="2124.29" width="8.7" height="4.85" fill="#E00E1E"/>
<rect x="203.75" y="2125.30" width="8.7" height="8.7" fill="#fff" stroke="#AE0E2A" stroke-width="1.0"/>
<rect x="203.75" y="2125.30" width="8.7" height="4.85" fill="#E00E1E"/>
<rect x="182.07" y="2125.90" width="8.7" height="8.7" fill="#fff" stroke="#AE0E2A" stroke-width="1.0"/>
<rect x="182.07" y="2125.90" width="8.7" height="4.85" fill="#E00E1E"/>
<rect x="160.38" y="2126.24" width="8.7" height="8.7" fill="#fff" stroke="#AE0E2A" stroke-width="1.0"/>
<rect x="160.38" y="2126.24" width="8.7" height="4.85" fill="#E00E1E"/>
<rect x="138.70" y="2126.44" width="8.7" height="8.7" fill="#fff" stroke="#AE0E2A" stroke-width="1.0"/>
<rect x="138.70" y="2126.44" width="8.7" height="4.85" fill="#E00E1E"/>
<rect x="117.01" y="2126.56" width="8.7" height="8.7" fill="#fff" stroke="#AE0E2A" stroke-width="1.0"/>
<rect x="117.01" y="2126.56" width="8.7" height="4.85" fill="#E00E1E"/>
<rect x="110.30" y="2126.59" width="8.7" height="8.7" fill="#fff" stroke="#AE0E2A" stroke-width="1.0"/>
<rect x="110.30" y="2126.59" width="8.7" height="4.85" fill="#E00E1E"/>
<polyline points="595.10,1697.23 616.76,1774.09 638.42,1827.84 660.08,1865.41 681.74,1891.69 703.40,1910.06 725.07,1922.91 746.73,1931.89 768.39,1938.17 790.05,1942.56 811.71,1945.64 833.37,1947.78 855.03,1949.28 876.69,1950.33 883.40,1950.59" fill="none" stroke="#AE0E2A" stroke-width="2.9" stroke-dasharray="13 5.5" stroke-dashoffset="4"/>
<rect x="590.85" y="1692.98" width="8.5" height="8.5" fill="#fff" stroke="#AE0E2A" stroke-width="1.0"/>
<rect x="590.85" y="1692.98" width="8.5" height="4.75" fill="#E00E1E"/>
<rect x="612.51" y="1769.84" width="8.5" height="8.5" fill="#fff" stroke="#AE0E2A" stroke-width="1.0"/>
<rect x="612.51" y="1769.84" width="8.5" height="4.75" fill="#E00E1E"/>
<rect x="634.17" y="1823.59" width="8.5" height="8.5" fill="#fff" stroke="#AE0E2A" stroke-width="1.0"/>
<rect x="634.17" y="1823.59" width="8.5" height="4.75" fill="#E00E1E"/>
<rect x="655.83" y="1861.16" width="8.5" height="8.5" fill="#fff" stroke="#AE0E2A" stroke-width="1.0"/>
<rect x="655.83" y="1861.16" width="8.5" height="4.75" fill="#E00E1E"/>
<rect x="677.49" y="1887.44" width="8.5" height="8.5" fill="#fff" stroke="#AE0E2A" stroke-width="1.0"/>
<rect x="677.49" y="1887.44" width="8.5" height="4.75" fill="#E00E1E"/>
<rect x="699.15" y="1905.81" width="8.5" height="8.5" fill="#fff" stroke="#AE0E2A" stroke-width="1.0"/>
<rect x="699.15" y="1905.81" width="8.5" height="4.75" fill="#E00E1E"/>
<rect x="720.82" y="1918.66" width="8.5" height="8.5" fill="#fff" stroke="#AE0E2A" stroke-width="1.0"/>
<rect x="720.82" y="1918.66" width="8.5" height="4.75" fill="#E00E1E"/>
<rect x="742.48" y="1927.64" width="8.5" height="8.5" fill="#fff" stroke="#AE0E2A" stroke-width="1.0"/>
<rect x="742.48" y="1927.64" width="8.5" height="4.75" fill="#E00E1E"/>
<rect x="764.14" y="1933.92" width="8.5" height="8.5" fill="#fff" stroke="#AE0E2A" stroke-width="1.0"/>
<rect x="764.14" y="1933.92" width="8.5" height="4.75" fill="#E00E1E"/>
<rect x="785.80" y="1938.31" width="8.5" height="8.5" fill="#fff" stroke="#AE0E2A" stroke-width="1.0"/>
<rect x="785.80" y="1938.31" width="8.5" height="4.75" fill="#E00E1E"/>
<rect x="807.46" y="1941.39" width="8.5" height="8.5" fill="#fff" stroke="#AE0E2A" stroke-width="1.0"/>
<rect x="807.46" y="1941.39" width="8.5" height="4.75" fill="#E00E1E"/>
<rect x="829.12" y="1943.53" width="8.5" height="8.5" fill="#fff" stroke="#AE0E2A" stroke-width="1.0"/>
<rect x="829.12" y="1943.53" width="8.5" height="4.75" fill="#E00E1E"/>
<rect x="850.78" y="1945.03" width="8.5" height="8.5" fill="#fff" stroke="#AE0E2A" stroke-width="1.0"/>
<rect x="850.78" y="1945.03" width="8.5" height="4.75" fill="#E00E1E"/>
<rect x="872.44" y="1946.08" width="8.5" height="8.5" fill="#fff" stroke="#AE0E2A" stroke-width="1.0"/>
<rect x="872.44" y="1946.08" width="8.5" height="4.75" fill="#E00E1E"/>
<rect x="879.15" y="1946.34" width="8.5" height="8.5" fill="#fff" stroke="#AE0E2A" stroke-width="1.0"/>
<rect x="879.15" y="1946.34" width="8.5" height="4.75" fill="#E00E1E"/>
<rect x="98.5" y="1651.6" width="63" height="30" fill="#00FFFF"/>
<rect x="98.5" y="1723.4" width="63" height="28.5" fill="#008080"/>
<text transform="translate(168.00,1674.70) scale(1.065,1)" font-size="26.4" text-anchor="start" >Freeze 1h, Thaw 1h</text>
<text transform="translate(168.00,1708.00) scale(1.065,1)" font-size="26.4" text-anchor="start" >Fitting curve</text>
<text transform="translate(168.00,1744.50) scale(1.065,1)" font-size="26.4" text-anchor="start" >Freeze 2h, Thaw 2h</text>
<text transform="translate(168.00,1777.30) scale(1.065,1)" font-size="26.4" text-anchor="start" >Fitting curve</text>
<line x1="97.3" y1="1699.5" x2="115.6" y2="1699.5" stroke="#AE0E2A" stroke-width="2.4"/>
<line x1="136.1" y1="1699.5" x2="154" y2="1699.5" stroke="#AE0E2A" stroke-width="2.4"/>
<rect x="125.10" y="1694.90" width="9.2" height="9.2" fill="#fff" stroke="#AE0E2A" stroke-width="1.0"/>
<rect x="125.10" y="1694.90" width="9.2" height="5.10" fill="#E00E1E"/>
<line x1="97.3" y1="1769.7" x2="112.6" y2="1769.7" stroke="#AE0E2A" stroke-width="2.9"/>
<line x1="136.1" y1="1769.7" x2="151.5" y2="1769.7" stroke="#AE0E2A" stroke-width="2.9"/>
<rect x="125.20" y="1765.20" width="9.0" height="9.0" fill="#fff" stroke="#AE0E2A" stroke-width="1.0"/>
<rect x="125.20" y="1765.20" width="9.0" height="5.00" fill="#E00E1E"/>
<text transform="translate(8.00,1996.40) scale(1.065,1)" font-size="26.4" text-anchor="start" ><tspan font-style="italic">y</tspan> <tspan fill-opacity="0.6" stroke="none">=</tspan> 20.4exp(-<tspan font-style="italic">x</tspan>/4.2) <tspan fill-opacity="0.6" stroke="none">+</tspan> <tspan font-style="italic">y</tspan><tspan font-size="17.4" dy="7.4">0</tspan></text>
<text transform="translate(6.00,2036.60) scale(1.065,1)" font-size="26.4" text-anchor="start" ><tspan font-style="italic">R</tspan><tspan font-size="18.0" dy="-9.5">2</tspan><tspan dy="9.5"><tspan fill-opacity="0.75" stroke="none">=</tspan>0.998</tspan></text>
<text transform="translate(648.40,1774.40) scale(1.065,1)" font-size="26.4" text-anchor="start" ><tspan font-style="italic">y</tspan> <tspan fill-opacity="0.6" stroke="none">=</tspan> 13.1exp(-<tspan font-style="italic">x</tspan>/6.3) <tspan fill-opacity="0.6" stroke="none">+</tspan> <tspan font-style="italic">y</tspan><tspan font-size="17.4" dy="7.4">0</tspan></text>
<text transform="translate(754.00,1812.50) scale(1.065,1)" font-size="26.4" text-anchor="start" ><tspan font-style="italic">R</tspan><tspan font-size="18.0" dy="-9.5">2</tspan><tspan dy="9.5"><tspan fill-opacity="0.75" stroke="none">=</tspan>0.989</tspan></text>
<line x1="299.50" y1="1996.40" x2="352.95" y2="2018.10" stroke="#000" stroke-width="1.4"/>
<polygon points="368.70,2024.50 351.44,2021.81 354.45,2014.40" fill="#000"/>
<line x1="676.40" y1="1775.30" x2="657.68" y2="1808.31" stroke="#000" stroke-width="1.4"/>
<polygon points="649.30,1823.10 654.20,1806.34 661.16,1810.28" fill="#000"/>
<text transform="translate(498.80,2273.90) scale(1.145,1)" font-size="27.3" text-anchor="middle" >Freeze-thaw cycles</text>
<text transform="translate(455.60,2376.40) scale(1.0,1)" font-size="49.5" text-anchor="middle" >(c)</text>
<text transform="translate(482.4,1987.3) rotate(-90) scale(1,1.065)" font-size="27.3"><tspan font-style="italic">ib</tspan><tspan font-size="24.5" dy="7.2">3</tspan></text>
</svg>
</body></html>
